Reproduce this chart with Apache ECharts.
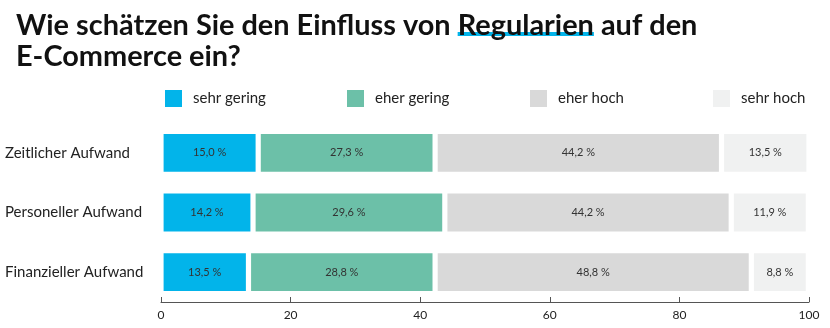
<!DOCTYPE html>
<html>
<head>
<meta charset="utf-8">
<script src="https://cdn.jsdelivr.net/npm/echarts@6/dist/echarts.min.js"></script>
<style>
  html, body { margin: 0; padding: 0; background: #fff; }
  #chart { width: 830px; height: 328px; }
</style>
</head>
<body>
<div id="chart"></div>
<script>
// Survey categories (top to bottom)
const categories = ['Zeitlicher Aufwand', 'Personeller Aufwand', 'Finanzieller Aufwand'];

// Answer shares in percent
const sehrGering = [15.0, 14.2, 13.5];
const eherGering = [27.3, 29.6, 28.8];
const eherHoch = [44.2, 44.2, 48.8];
const sehrHoch = [13.5, 11.9, 8.8];

const seriesNames = ['sehr gering', 'eher gering', 'eher hoch', 'sehr hoch'];
const seriesValues = [sehrGering, eherGering, eherHoch, sehrHoch];
const seriesColors = ['#02b4ea', '#6cc0a8', '#d9d9d9', '#f0f1f1'];

// x axis ticks
const xMin = 0, xMax = 100, xStep = 20;

const FONT = 'Lato';
const chart = echarts.init(document.getElementById('chart'), null, { renderer: 'canvas' });

const legendLefts = [163, 345, 528, 711];

const option = {
  animation: false,
  backgroundColor: '#ffffff',
  title: {
    left: 16,
    top: 10,
    padding: 0,
    text: '{a|Wie schätzen Sie den Einfluss von }{u|Regularien}{a| auf den}\n{a|E-Commerce ein?}',
    textStyle: {
      rich: {
        a: { fontFamily: FONT, fontWeight: 'bold', fontSize: 28.9, lineHeight: 31, color: '#111' },
        u: {
          fontFamily: FONT, fontWeight: 'bold', fontSize: 28.9, lineHeight: 31, color: '#111',
          backgroundColor: new echarts.graphic.LinearGradient(0, 0, 0, 1, [
            { offset: 0, color: 'rgba(2,180,234,0)' },
            { offset: 0.74, color: 'rgba(2,180,234,0)' },
            { offset: 0.74, color: '#02b4ea' },
            { offset: 0.86, color: '#02b4ea' },
            { offset: 0.86, color: 'rgba(2,180,234,0)' },
            { offset: 1, color: 'rgba(2,180,234,0)' }
          ])
        }
      }
    }
  },
  legend: seriesNames.map((name, i) => ({
    data: [name],
    left: legendLefts[i],
    top: 88,
    padding: 0,
    itemWidth: 19,
    itemHeight: 19,
    icon: 'rect',
    textStyle: { fontFamily: FONT, fontSize: 15, color: '#222', padding: [0, 0, 0, 5] },
    selectedMode: false
  })),
  grid: { left: 161, right: 21, top: 123, bottom: 26, containLabel: false },
  xAxis: {
    type: 'value',
    min: xMin,
    max: xMax,
    interval: xStep,
    axisLine: { show: true, lineStyle: { color: '#555', width: 1 } },
    axisTick: { show: true, inside: true, length: 5, lineStyle: { color: '#555' } },
    splitLine: { show: false },
    axisLabel: { fontFamily: FONT, fontSize: 12, color: '#222', margin: 7 }
  },
  yAxis: {
    type: 'category',
    data: categories,
    inverse: true,
    axisLine: { show: false },
    axisTick: { show: false },
    axisLabel: { align: 'left', margin: 156, fontFamily: FONT, fontSize: 15, color: '#222' }
  },
  series: seriesNames.map((name, i) => ({
    name: name,
    type: 'bar',
    stack: 'total',
    barWidth: 43,
    data: seriesValues[i],
    itemStyle: { color: seriesColors[i], borderColor: '#ffffff', borderWidth: 2.6 },
    label: {
      show: true,
      position: 'inside',
      fontFamily: FONT,
      fontSize: 11,
      color: '#333',
      formatter: p => p.value.toFixed(1).replace('.', ',') + ' %'
    }
  }))
};

chart.setOption(option);
</script>
</body>
</html>
